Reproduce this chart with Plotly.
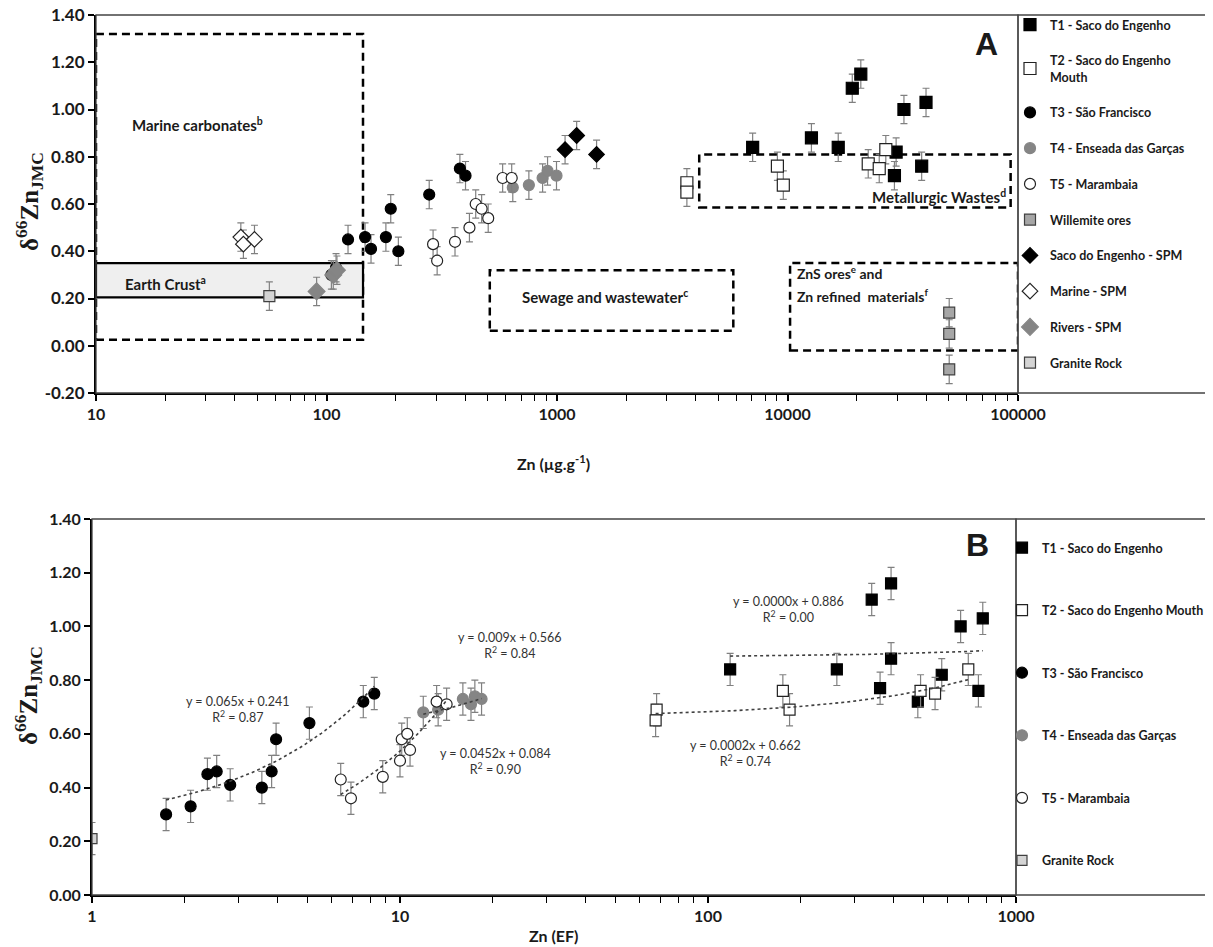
import numpy as np
import plotly.graph_objects as go

W, H = 1213, 947
OX, OY = 8, 8  # page body margin of the browser

# ---------------- Panel A: Zn (µg/g) vs δ66Zn ----------------
a_t1_zn = [7060, 12700, 16600, 19100, 20800, 29600, 29100, 32000, 39900, 38200]
a_t1_d = [0.84, 0.88, 0.84, 1.09, 1.15, 0.82, 0.72, 1.00, 1.03, 0.76]
a_t2_zn = [3660, 3660, 9040, 9590, 22400, 25000, 26700]
a_t2_d = [0.69, 0.65, 0.76, 0.68, 0.77, 0.75, 0.83]
a_t3_zn = [105, 110, 124, 147, 156, 181, 190, 205, 279, 379, 401]
a_t3_d = [0.30, 0.33, 0.45, 0.46, 0.41, 0.46, 0.58, 0.40, 0.64, 0.75, 0.72]
a_t4_zn = [643, 755, 866, 910, 995]
a_t4_d = [0.67, 0.68, 0.71, 0.74, 0.72]
a_t5_zn = [290, 302, 361, 417, 444, 471, 503, 581, 636]
a_t5_d = [0.43, 0.36, 0.44, 0.50, 0.60, 0.58, 0.54, 0.71, 0.71]
a_will_zn = [50300, 50300, 50300]
a_will_d = [0.14, 0.05, -0.10]
a_sespm_zn = [1084, 1217, 1485]
a_sespm_d = [0.83, 0.89, 0.81]
a_marspm_zn = [42.5, 43.6, 48.7]
a_marspm_d = [0.46, 0.43, 0.45]
a_rivspm_zn = [90.6, 107, 111]
a_rivspm_d = [0.23, 0.30, 0.32]
a_gran_zn = [56.5]
a_gran_d = [0.21]

# ---------------- Panel B: Zn (EF) vs δ66Zn ----------------
b_t1_ef = [118, 262, 340, 393, 362, 393, 480, 574, 661, 780, 755]
b_t1_d = [0.84, 0.84, 1.10, 1.16, 0.77, 0.88, 0.72, 0.82, 1.00, 1.03, 0.76]
b_t2_ef = [68.1, 67.6, 175, 184, 490, 546, 700]
b_t2_d = [0.69, 0.65, 0.76, 0.69, 0.76, 0.75, 0.84]
b_t3_ef = [1.74, 2.09, 2.37, 2.54, 2.81, 3.56, 3.83, 3.96, 5.08, 7.60, 8.25]
b_t3_d = [0.30, 0.33, 0.45, 0.46, 0.41, 0.40, 0.46, 0.58, 0.64, 0.72, 0.75]
b_t4_ef = [11.9, 13.3, 16.0, 17.0, 17.5, 18.4]
b_t4_d = [0.68, 0.69, 0.73, 0.71, 0.74, 0.73]
b_t5_ef = [6.42, 6.93, 8.79, 10.0, 10.13, 10.56, 10.78, 13.15, 14.17]
b_t5_d = [0.43, 0.36, 0.44, 0.50, 0.58, 0.60, 0.54, 0.72, 0.71]
b_gran_ef = [1.0]
b_gran_d = [0.21]

# trendlines in panel B (linear, from the equations shown)
trend_series = ["T3", "T5", "T4", "T1", "T2"]
trend_slope = [0.065, 0.0452, 0.009, 0.00003, 0.0002]
trend_icpt = [0.241, 0.084, 0.566, 0.886, 0.662]
trend_labels = ["y = 0.065x + 0.241<br>R<sup>2</sup> = 0.87",
                "y = 0.0452x + 0.084<br>R<sup>2</sup> = 0.90",
                "y = 0.009x + 0.566<br>R<sup>2</sup> = 0.84",
                "y = 0.0000x + 0.886<br>R<sup>2</sup> = 0.00",
                "y = 0.0002x + 0.662<br>R<sup>2</sup> = 0.74"]

ZN_ERR = 0.06

# reference fields in panel A: (Zn min, Zn max, δ min, δ max)
box_names = ["Marine carbonates", "Earth Crust", "Sewage", "Metallurgic", "ZnS"]
box_zn_min = [10, 10, 511, 4140, 10260]
box_zn_max = [144, 144, 5820, 92900, 100000]
box_d_min = [0.025, 0.205, 0.063, 0.585, -0.02]
box_d_max = [1.32, 0.35, 0.32, 0.81, 0.35]

# ticks
a_x_ticks = [10, 100, 1000, 10000, 100000]
a_x_ticktext = ["10", "100", "1000", "10000", "100000"]
a_y_ticks = [-0.2, 0.0, 0.2, 0.4, 0.6, 0.8, 1.0, 1.2, 1.4]
a_y_ticktext = ["-0.20", "0.00", "0.20", "0.40", "0.60", "0.80", "1.00", "1.20", "1.40"]
b_x_ticks = [1, 10, 100, 1000]
b_x_ticktext = ["1", "10", "100", "1000"]
b_y_ticks = [0.0, 0.2, 0.4, 0.6, 0.8, 1.0, 1.2, 1.4]
b_y_ticktext = ["0.00", "0.20", "0.40", "0.60", "0.80", "1.00", "1.20", "1.40"]


def minor_log(lo, hi):
    return [m * 10 ** k for k in range(lo, hi) for m in range(2, 10)]


def PX(x):
    return (x - OX) / W


def PY(y):
    return 1 - (y - OY) / H


FONT = "Lato"
DARK = "#1a1a1a"
ERRC = "#808080"

fig = go.Figure()


def add_pts(x, y, name, symbol, fill, edge, size, xa, ya, leg):
    fig.add_trace(go.Scatter(
        x=x, y=y, mode="markers", name=name,
        marker=dict(symbol=symbol, size=size, color=fill, line=dict(color=edge, width=1.2)),
        error_y=dict(type="constant", value=ZN_ERR, color=ERRC, thickness=1.2, width=3.5),
        xaxis=xa, yaxis=ya, legend=leg, legendgroup=leg + name))


# Panel A traces
add_pts(a_t1_zn, a_t1_d, "T1 - Saco do Engenho", "square", "black", "black", 12, "x", "y", "legend")
add_pts(a_t2_zn, a_t2_d, "T2 - Saco do Engenho<br>Mouth", "square", "white", "#222", 12, "x", "y", "legend")
add_pts(a_t3_zn, a_t3_d, "T3 - São Francisco", "circle", "black", "black", 11, "x", "y", "legend")
add_pts(a_t4_zn, a_t4_d, "T4 - Enseada das Garças", "circle", "#858585", "#858585", 11, "x", "y", "legend")
add_pts(a_t5_zn, a_t5_d, "T5 - Marambaia", "circle", "white", "#222", 11, "x", "y", "legend")
add_pts(a_will_zn, a_will_d, "Willemite ores", "square", "#a6a6a6", "#404040", 11, "x", "y", "legend")
add_pts(a_sespm_zn, a_sespm_d, "Saco do Engenho - SPM", "diamond", "black", "black", 12, "x", "y", "legend")
add_pts(a_marspm_zn, a_marspm_d, "Marine - SPM", "diamond", "white", "#222", 12, "x", "y", "legend")
add_pts(a_rivspm_zn, a_rivspm_d, "Rivers - SPM", "diamond", "#858585", "#858585", 13, "x", "y", "legend")
add_pts(a_gran_zn, a_gran_d, "Granite Rock", "square", "#d4d4d4", "#404040", 11, "x", "y", "legend")

# Panel B traces
add_pts(b_t1_ef, b_t1_d, "T1 - Saco do Engenho", "square", "black", "black", 11, "x2", "y2", "legend2")
add_pts(b_t2_ef, b_t2_d, "T2 - Saco do Engenho Mouth", "square", "white", "#222", 11, "x2", "y2", "legend2")
add_pts(b_t3_ef, b_t3_d, "T3 - São Francisco", "circle", "black", "black", 11, "x2", "y2", "legend2")
add_pts(b_t4_ef, b_t4_d, "T4 - Enseada das Garças", "circle", "#858585", "#858585", 11, "x2", "y2", "legend2")
add_pts(b_t5_ef, b_t5_d, "T5 - Marambaia", "circle", "white", "#222", 11, "x2", "y2", "legend2")
add_pts(b_gran_ef, b_gran_d, "Granite Rock", "square", "#d4d4d4", "#404040", 10, "x2", "y2", "legend2")

# trendlines
series_x = {"T1": b_t1_ef, "T2": b_t2_ef, "T3": b_t3_ef, "T4": b_t4_ef, "T5": b_t5_ef}
for s, m, c in zip(trend_series, trend_slope, trend_icpt):
    xs = np.geomspace(min(series_x[s]), max(series_x[s]), 60)
    fig.add_trace(go.Scatter(x=xs, y=m * xs + c, mode="lines", showlegend=False,
                             line=dict(color="#404040", width=1.6, dash="dot"),
                             xaxis="x2", yaxis="y2", hoverinfo="skip"))


def tf(size):
    return dict(family=FONT, size=size, color=DARK, weight="bold")


common = dict(showline=True, linecolor="black", linewidth=2, showgrid=False, zeroline=False,
              automargin=False, ticklabeloverflow="allow",
              ticks="outside", ticklen=6, tickwidth=1.5, tickcolor="black")

dA = dict(x=[PX(96), PX(1018)], y=[PY(393), PY(15)])
dB = dict(x=[PX(92), PX(1016)], y=[PY(895), PY(519)])

fig.update_layout(
    width=W, height=H, margin=dict(l=0, r=0, t=0, b=0, autoexpand=False),
    paper_bgcolor="white", plot_bgcolor="white",
    xaxis=dict(type="log", domain=dA["x"], range=[1, 5], anchor="y",
               tickvals=a_x_ticks, ticktext=a_x_ticktext, tickfont=tf(16),
               minor=dict(tickvals=minor_log(1, 5), ticks="outside", ticklen=6, tickwidth=1.2,
                          tickcolor="black", showgrid=False), **common),
    yaxis=dict(domain=dA["y"], range=[-0.2, 1.4], anchor="x", tickfont=tf(17),
               tickvals=a_y_ticks, ticktext=a_y_ticktext, **common),
    xaxis2=dict(type="log", domain=dB["x"], range=[0, 3], anchor="y2",
                tickvals=b_x_ticks, ticktext=b_x_ticktext, tickfont=tf(16),
                minor=dict(tickvals=minor_log(0, 3), ticks="outside", ticklen=6, tickwidth=1.2,
                           tickcolor="black", showgrid=False), **common),
    yaxis2=dict(domain=dB["y"], range=[0, 1.4], anchor="x2", tickfont=tf(16),
                tickvals=b_y_ticks, ticktext=b_y_ticktext, **common),
    legend=dict(x=PX(1010), y=PY(10), xanchor="left", yanchor="top",
                font=dict(family=FONT, size=12.5, color=DARK, weight="bold"),
                tracegroupgap=16.5, bgcolor="rgba(0,0,0,0)", borderwidth=0),
    legend2=dict(x=PX(1002), y=PY(533), xanchor="left", yanchor="top",
                 font=dict(family=FONT, size=12.5, color=DARK, weight="bold"),
                 tracegroupgap=43.3, bgcolor="rgba(0,0,0,0)", borderwidth=0),
    showlegend=True,
)

# reference field boxes (panel A)
for name, x0, x1, y0, y1 in zip(box_names, box_zn_min, box_zn_max, box_d_min, box_d_max):
    if name == "Earth Crust":
        fig.add_shape(type="rect", xref="x", yref="y", x0=x0, x1=x1, y0=y0, y1=y1,
                      line=dict(color="black", width=2.2), fillcolor="#efefef", layer="below")
    else:
        fig.add_shape(type="rect", xref="x", yref="y", x0=x0, x1=x1, y0=y0, y1=y1,
                      line=dict(color="black", width=2.5, dash="8px,5px"), layer="below")

# plot-area / legend frames
for d in (dA, dB):
    fig.add_shape(type="rect", xref="paper", yref="paper", x0=d["x"][0], x1=d["x"][1],
                  y0=d["y"][0], y1=d["y"][1], line=dict(color="#444", width=1.3), layer="above")
    fig.add_shape(type="rect", xref="paper", yref="paper", x0=d["x"][1], x1=1.05,
                  y0=d["y"][0], y1=d["y"][1], line=dict(color="#444", width=1.3), layer="above")

ann = []


def text(x, y, t, size=16, xanchor="center", family=FONT, weight="bold", color=DARK, angle=0, align="center"):
    ann.append(dict(x=PX(x), y=PY(y), xref="paper", yref="paper", text=t, showarrow=False,
                    xanchor=xanchor, yanchor="middle", textangle=angle, align=align,
                    font=dict(family=family, size=size, color=color, weight=weight)))


# axis titles
text(29, 202, "δ<sup>66</sup>Zn<sub>JMC</sub>", size=25, family="Liberation Serif", angle=-90)
text(28, 696, "δ<sup>66</sup>Zn<sub>JMC</sub>", size=25, family="Liberation Serif", angle=-90)
text(553, 462, "Zn (µg.g<sup>-1</sup>)", size=16)
text(553, 935, "Zn (EF)", size=16)
# panel letters
text(986, 44, "A", size=32, family="Liberation Sans")
text(977, 545, "B", size=32, family="Liberation Sans")
# field labels
text(130, 125, "Marine carbonates<sup>b</sup>", size=15, xanchor="left")
text(123, 283, "Earth Crust<sup>a</sup>", size=15, xanchor="left")
text(605, 296, "Sewage and wastewater<sup>c</sup>", size=15)
text(1008, 196, "Metallurgic Wastes<sup>d</sup>", size=15, xanchor="right")
text(795, 273, "ZnS ores<sup>e</sup> and", size=14, xanchor="left")
text(795, 295, "Zn refined  materials<sup>f</sup>", size=14, xanchor="left")
# trendline labels
trend_pos = [(238, 709), (495, 761), (510, 645), (788, 609), (745, 753)]
for (x, y), t in zip(trend_pos, trend_labels):
    text(x, y, t, size=12.5, weight="normal", color="#333")

fig.update_layout(annotations=ann)
fig.write_html("out.html")
